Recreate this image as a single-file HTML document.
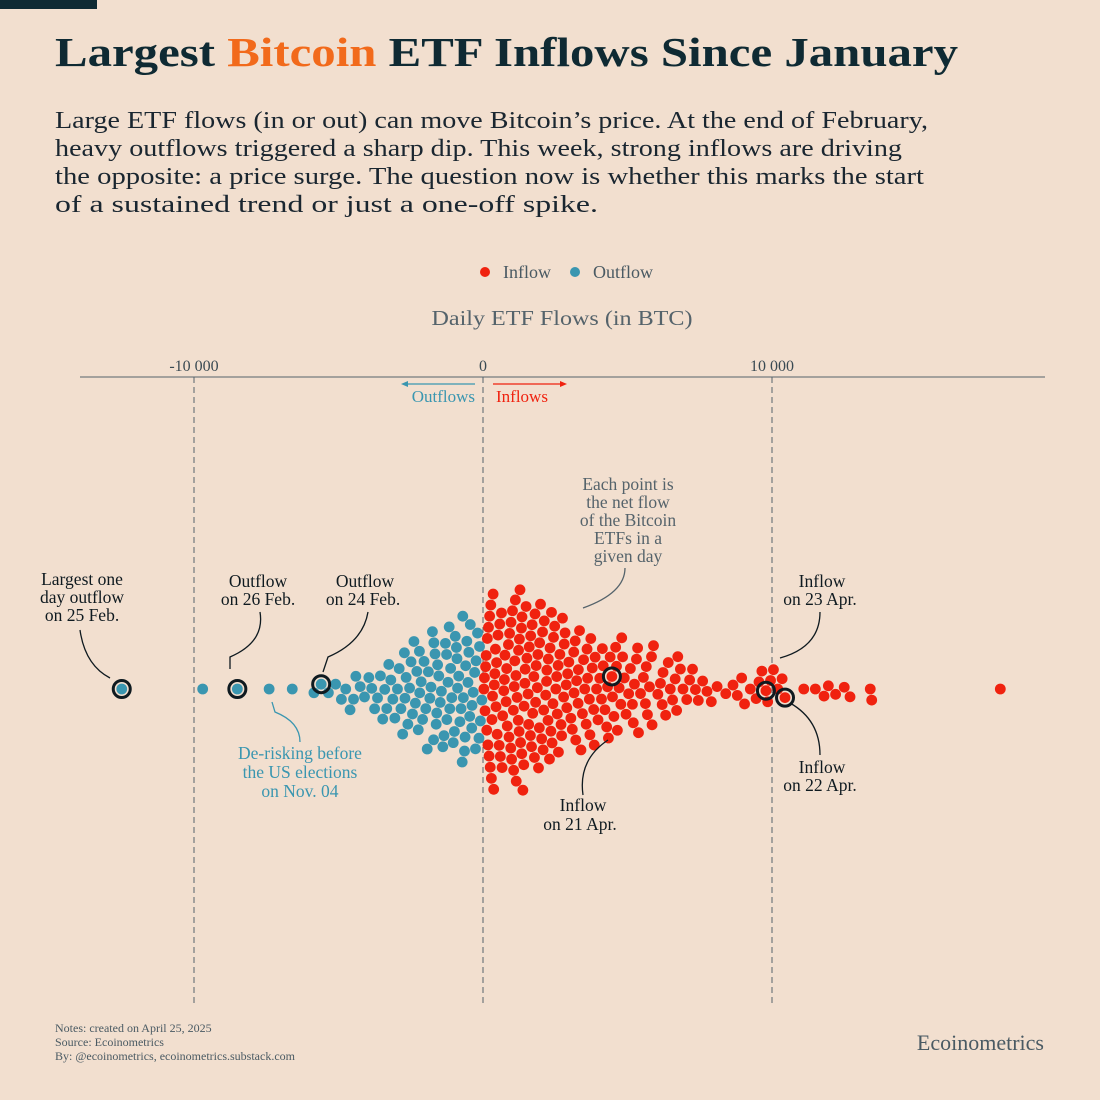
<!DOCTYPE html>
<html><head><meta charset="utf-8"><style>
html,body{margin:0;padding:0;background:#f2dfcf;}
svg{display:block;font-family:"Liberation Serif",serif;}
</style></head><body>
<svg id="chart" width="1100" height="1100" viewBox="0 0 1100 1100">
<rect x="0" y="0" width="1100" height="1100" fill="#f2dfcf"/>
<rect x="0" y="0" width="97" height="9" fill="#0f2a33"/>
<text x="55" y="66" font-size="41" font-weight="bold" fill="#0f2a33" textLength="903" lengthAdjust="spacingAndGlyphs">Largest <tspan fill="#f26a1b">Bitcoin</tspan> ETF Inflows Since January</text>
<g font-size="24" fill="#1a2630">
<text x="55" y="128" textLength="873" lengthAdjust="spacingAndGlyphs">Large ETF flows (in or out) can move Bitcoin’s price. At the end of February,</text>
<text x="55" y="156" textLength="847" lengthAdjust="spacingAndGlyphs">heavy outflows triggered a sharp dip. This week, strong inflows are driving</text>
<text x="55" y="184" textLength="869" lengthAdjust="spacingAndGlyphs">the opposite: a price surge. The question now is whether this marks the start</text>
<text x="55" y="212" textLength="543" lengthAdjust="spacingAndGlyphs">of a sustained trend or just a one-off spike.</text>
</g>
<g font-size="18" fill="#4a5a63">
<circle cx="485" cy="272" r="5" fill="#f0220f"/>
<text x="503" y="278">Inflow</text>
<circle cx="575" cy="272" r="5" fill="#3a96b0"/>
<text x="593" y="278">Outflow</text>
</g>
<text x="562" y="325" font-size="21" fill="#55636b" text-anchor="middle" textLength="261" lengthAdjust="spacingAndGlyphs">Daily ETF Flows (in BTC)</text>
<line x1="80" y1="377" x2="1045" y2="377" stroke="#55636b" stroke-width="1"/>
<g id="ticks"></g>
<g>
<line x1="475" y1="384" x2="405" y2="384" stroke="#3a96b0" stroke-width="1.2"/>
<path d="M401 384 l7 -3 v6 z" fill="#3a96b0"/>
<text x="475" y="402" font-size="17" fill="#3a96b0" text-anchor="end">Outflows</text>
<line x1="493" y1="384" x2="562" y2="384" stroke="#f0220f" stroke-width="1.2"/>
<path d="M567 384 l-7 -3 v6 z" fill="#f0220f"/>
<text x="496" y="402" font-size="17" fill="#f0220f">Inflows</text>
</g>
<g id="dots"></g>
<g id="rings"></g>
<g font-size="17.5" text-anchor="middle" fill="#0f1a20">
<text x="82" y="585">Largest one</text><text x="82" y="603">day outflow</text><text x="82" y="621">on 25 Feb.</text>
<path d="M80 630 q5 35 30 48" fill="none" stroke="#0f1a20" stroke-width="1.3"/>
<text x="258" y="587">Outflow</text><text x="258" y="605">on 26 Feb.</text>
<path d="M260 612 q5 30 -30 45 l0 12" fill="none" stroke="#0f1a20" stroke-width="1.3"/>
<text x="365" y="587">Outflow</text><text x="363" y="605">on 24 Feb.</text>
<path d="M368 612 q-5 30 -40 45 l-5 15" fill="none" stroke="#0f1a20" stroke-width="1.3"/>
<text x="822" y="587">Inflow</text><text x="820" y="605">on 23 Apr.</text>
<path d="M820 612 q0 35 -40 46" fill="none" stroke="#0f1a20" stroke-width="1.3"/>
<text x="822" y="773">Inflow</text><text x="820" y="791">on 22 Apr.</text>
<path d="M820 755 q0 -35 -30 -52" fill="none" stroke="#0f1a20" stroke-width="1.3"/>
<text x="583" y="811">Inflow</text><text x="580" y="830">on 21 Apr.</text>
<path d="M583 795 q-5 -35 25 -55" fill="none" stroke="#0f1a20" stroke-width="1.3"/>
<g fill="#55636b"><text x="628" y="490">Each point is</text><text x="628" y="508">the net flow</text><text x="628" y="526">of the Bitcoin</text><text x="628" y="544">ETFs in a</text><text x="628" y="562">given day</text></g>
<path d="M625 568 q0 25 -42 40" fill="none" stroke="#55636b" stroke-width="1.3"/>
<g fill="#3a96b0"><text x="300" y="759">De-risking before</text><text x="300" y="778">the US elections</text><text x="300" y="797">on Nov. 04</text></g>
<path d="M300 742 q0 -20 -25 -30 l-3 -10" fill="none" stroke="#3a96b0" stroke-width="1.3"/>
</g>
<g font-size="12" fill="#4a5a63">
<text x="55" y="1032">Notes: created on April 25, 2025</text>
<text x="55" y="1046">Source: Ecoinometrics</text>
<text x="55" y="1060">By: @ecoinometrics, ecoinometrics.substack.com</text>
</g>
<text x="1044" y="1050" font-size="22" fill="#4a5a63" text-anchor="end">Ecoinometrics</text>
</svg>
<script>
const tickValues = [-10000, 0, 10000];
const tickLabels = ["-10 000", "0", "10 000"];
const inflowValues = [30,70,110,150,190,230,270,310,350,390,430,470,50,130,210,290,370,450,90,250,410,170,330,490,
520,560,600,640,680,720,760,800,840,880,920,960,990,580,660,740,820,900,970,
1020,1060,1100,1140,1180,1220,1260,1300,1340,1380,1420,1460,1490,1050,1150,1250,1350,1450,1120,1230,1330,1410,1080,1280,
1520,1560,1600,1640,1680,1720,1760,1800,1840,1880,1920,1960,1990,1580,1700,1820,1900,1650,1780,1950,
2030,2080,2120,2170,2210,2260,2300,2350,2390,2440,2480,2100,2200,2320,2420,2250,2060,2370,
2520,2570,2610,2660,2700,2750,2790,2840,2880,2930,2970,2600,2720,2810,2900,2550,
3040,3090,3140,3190,3240,3290,3340,3390,3440,3480,3150,3300,3210,
3520,3570,3620,3680,3730,3780,3830,3880,3930,3980,3600,3850,3700,
4040,4100,4160,4220,4280,4340,4400,4460,4480,4130,4310,
4530,4590,4650,4710,4770,4830,4890,4950,4620,4800,
5040,5100,5170,5240,5310,5380,5450,5200,5350,
5550,5620,5690,5760,5830,5900,5650,5850,
6050,6140,6230,6320,6410,6480,6200,
6560,6650,6740,6830,6920,6700,
7050,7150,7250,7350,7450,
7600,7750,7900,
8100,8400,
8650,8800,8950,
9050,9250,9450,
9550,9650,9790,9850,9950,
10050,10200,10350,10450,
11100,11500,11800,11950,
12200,12500,12700,13400,13450,
17900];
const outflowValues = [-40,-90,-140,-190,-240,-290,-340,-390,-440,-490,-120,-260,-380,-460,
-520,-560,-600,-640,-680,-720,-760,-800,-840,-880,-920,-960,-990,-700,-620,-900,
-1030,-1080,-1120,-1170,-1210,-1260,-1300,-1350,-1390,-1440,-1480,-1250,-1150,
-1530,-1570,-1620,-1660,-1710,-1750,-1800,-1840,-1890,-1930,-1980,-1700,-1600,
-2040,-2090,-2140,-2190,-2240,-2290,-2340,-2390,-2440,-2490,-2200,
-2540,-2600,-2660,-2720,-2780,-2840,-2900,-2960,-2700,
-3050,-3120,-3190,-3260,-3330,-3400,-3470,
-3550,-3650,-3750,-3850,-3950,
-4100,-4250,-4400,-4480,
-4600,-4750,-4900,
-5100,-5350,
-5600,-5850,
-6600,-7400,-8500,-9700,-12500];
const highlightValues = [-12500, -8500, -5600, 4460, 9790, 10450];

const X0 = 483, PX = 28.9/1000, CY = 689, R = 5.4, D = 11.2;
const xs = v => X0 + v * PX;
const NS = "http://www.w3.org/2000/svg";

const tg = document.getElementById('ticks');
tickValues.forEach((t, i) => {
  const l = document.createElementNS(NS, 'line');
  l.setAttribute('x1', xs(t)); l.setAttribute('x2', xs(t));
  l.setAttribute('y1', 377); l.setAttribute('y2', 1003);
  l.setAttribute('stroke', '#55636b'); l.setAttribute('stroke-dasharray', '6,4'); l.setAttribute('stroke-width', '1');
  
  
  tg.appendChild(l);
  const tx = document.createElementNS(NS, 'text');
  tx.setAttribute('x', xs(t)); tx.setAttribute('y', 371);
  tx.setAttribute('text-anchor', 'middle'); tx.setAttribute('font-size', '16'); tx.setAttribute('fill', '#3a4a53');
  tx.textContent = tickLabels[i];
  
  
  tg.appendChild(tx);
});

const pts = inflowValues.map(v => ({v, c: '#f0220f'})).concat(outflowValues.map(v => ({v, c: '#3a96b0'})));
pts.sort((a, b) => Math.abs(a.v) - Math.abs(b.v));
const placed = [];
pts.forEach(p => {
  p.x = xs(p.v);
  const near = placed.filter(q => Math.abs(q.x - p.x) < D);
  const cands = [0];
  near.forEach(q => {
    const dy = Math.sqrt(D * D - (q.x - p.x) * (q.x - p.x));
    cands.push(q.y + dy, q.y - dy);
  });
  cands.sort((a, b) => Math.abs(a) - Math.abs(b));
  for (const y of cands) {
    if (near.every(q => (q.x - p.x) ** 2 + (q.y - y) ** 2 >= D * D - 0.01)) { p.y = y; break; }
  }
  placed.push(p);
});
const dg = document.getElementById('dots');
placed.forEach(p => {
  const c = document.createElementNS(NS, 'circle');
  c.setAttribute('cx', p.x); c.setAttribute('cy', CY + p.y); c.setAttribute('r', R); c.setAttribute('fill', p.c);
  
  
  dg.appendChild(c);
});
const rg = document.getElementById('rings');
highlightValues.forEach(v => {
  const p = placed.find(q => q.v === v);
  if (!p) return;
  const c = document.createElementNS(NS, 'circle');
  c.setAttribute('cx', p.x); c.setAttribute('cy', CY + p.y); c.setAttribute('r', 8.5);
  c.setAttribute('fill', 'none'); c.setAttribute('stroke', '#0f1a20'); c.setAttribute('stroke-width', '3');
  
  
  rg.appendChild(c);
});
</script>
</body></html>
